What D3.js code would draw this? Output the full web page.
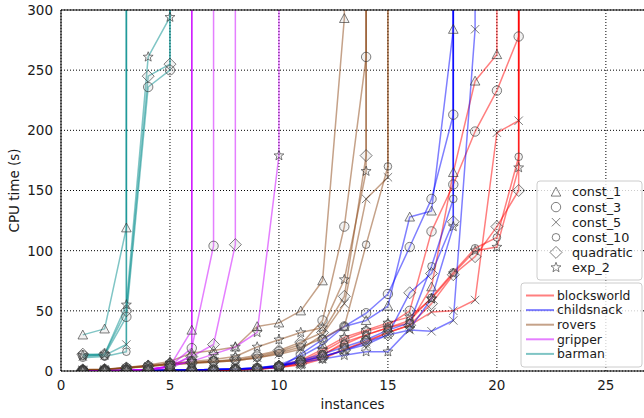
<!DOCTYPE html>
<html><head><meta charset="utf-8">
<script src="https://cdn.jsdelivr.net/npm/d3@7"></script>
<style>body{margin:0;background:#fff} text{font-family:"DejaVu Sans",sans-serif;fill:#1a1a1a}</style>
</head><body><svg id="c" width="644" height="418"></svg>
<script>
// Unsolved instance (timeout): drawn far above the chart, so the line runs off the top.
const TO = 1e6;
const configs = ["const_1", "const_3", "const_5", "const_10", "quadratic", "exp_2"];
const domains = ["blocksworld", "childsnack", "rovers", "gripper", "barman"];
const domainColors = ["#ff0000", "#0000ff", "#8b4513", "#cc00ff", "#008b8b"];
const xTicks = [0, 5, 10, 15, 20, 25];
const yTicks = [0, 50, 100, 150, 200, 250, 300];

// CPU time per instance (instance 1, 2, ...), one array per config, order = configs
const blocksworldTimes = [
  [0.1,0.1,0.2,0.3,0.4,0.6,0.8,1,1.5,3,6,13,24,30,36,40,70,165,241,263,TO],
  [0.1,0.1,0.2,0.3,0.4,0.6,0.8,1.1,1.6,4,8,16,26,33,38,50,116,155,199,233,278,TO],
  [0.1,0.1,0.2,0.3,0.4,0.5,0.7,1,1.4,3,5,10,18,24,32,38,49,50,59,198,208,TO],
  [0.1,0.1,0.2,0.3,0.4,0.6,0.8,1.1,1.7,4,7,14,22,30,36,42,61,82,102,111,178,TO],
  [0.1,0.1,0.2,0.3,0.4,0.6,0.8,1,1.5,3.5,6,11,18,25,32,38,56,80,95,120,150,TO],
  [0.1,0.1,0.2,0.3,0.4,0.6,0.9,1.2,1.8,4.5,9,18,28,34,40,45,60,81,100,103,169,TO]
];
const childsnackTimes = [
  [0.2,0.3,0.4,0.5,0.7,0.9,1.2,1.6,2.5,5,12,22,37,42,54,128,133,284,TO],
  [0.2,0.3,0.4,0.5,0.7,0.9,1.2,1.6,2.5,2.5,14,26,37,48,64,103,143,213,TO],
  [0.2,0.3,0.4,0.5,0.7,0.9,1.2,1.5,2.2,4,8,12,17,22,30,34,33,42,284,TO],
  [0.2,0.3,0.4,0.5,0.7,0.9,1.2,1.6,2.4,4.5,9,14,20,26,34,40,87,143,TO],
  [0.2,0.3,0.4,0.5,0.7,0.9,1.2,1.6,2.4,4,8,12,17,24,30,65,81,124,TO],
  [0.2,0.3,0.4,0.5,0.7,0.9,1.2,1.6,2.3,4,7,10,13,16,16,35,60,120,TO]
];
const roversTimes = [
  [1.2,1.5,3,5,8,15,17,20,37,40,50,75,293,TO],
  [1,1.3,2.5,4,6,7,8,9,12,16,22,42,120,261,TO],
  [1,1.3,2.5,4,5.5,6.5,7.5,8.5,11,14,18,30,56,143,161,TO],
  [1,1.2,2.3,3.8,5.5,6.5,7.5,8.5,11,15,20,27,37,105,170,TO],
  [1,1.3,2.6,4.2,6,7,8,10,13,17,24,32,62,179,TO],
  [1,1.4,2.8,4.5,6.5,8,9.5,12,20,26,32,36,76,166,TO]
];
const gripperTimes = [
  [0.1,0.2,0.5,1.2,4,34,TO],
  [0.1,0.2,0.5,1.2,4,19,104,TO],
  [0.1,0.2,0.5,1.1,3.5,13,TO],
  [0.1,0.2,0.4,1,3,9,TO],
  [0.1,0.2,0.5,1.2,4,12,22,105,TO],
  [0.1,0.2,0.5,1.2,4,8,14,20,32,179,TO]
];
const barmanTimes = [
  [30,35,119,TO],
  [13,13,45,236,250,TO],
  [12,13,22,TO],
  [11,12,16,TO],
  [14,14,50,245,255,TO],
  [13,14,55,261,294,TO]
];
const allTimes = [blocksworldTimes, childsnackTimes, roversTimes, gripperTimes, barmanTimes];

const svg = d3.select("#c");
const L = 61, R = 644, T = 10, B = 371;
const x = d3.scaleLinear().domain([0, 26.75]).range([L, R]);
const y = d3.scaleLinear().domain([0, 300]).range([B, T]);

svg.append("defs").append("clipPath").attr("id", "clip")
  .append("rect").attr("x", L).attr("y", T).attr("width", R - L).attr("height", B - T);

// grid
const grid = svg.append("g");
yTicks.forEach(t => grid.append("line").attr("x1", L).attr("x2", R).attr("y1", y(t)).attr("y2", y(t))
  .attr("stroke", "#000").attr("stroke-width", 1).attr("stroke-dasharray", "1,2"));
xTicks.forEach(t => grid.append("line").attr("x1", x(t)).attr("x2", x(t)).attr("y1", T).attr("y2", B)
  .attr("stroke", "#000").attr("stroke-width", 1).attr("stroke-dasharray", "1,2"));

// marker shapes
function markerPath(cfg) {
  switch (cfg) {
    case "const_1": { const r = 4.8; return `M0,${-r}L${-r},${r*0.85}L${r},${r*0.85}Z`; }
    case "const_3": return d3.symbol(d3.symbolCircle, Math.PI * 4.7 * 4.7)();
    case "const_5": { const r = 4.2; return `M${-r},${-r}L${r},${r}M${-r},${r}L${r},${-r}`; }
    case "const_10": return d3.symbol(d3.symbolCircle, Math.PI * 3.8 * 3.8)();
    case "quadratic": { const r = 6; return `M0,${-r}L${r},0L0,${r}L${-r},0Z`; }
    case "exp_2": {
      const ro = 5.2, ri = 2.2; let p = "";
      for (let i = 0; i < 10; i++) {
        const a = -Math.PI / 2 + i * Math.PI / 5, rr = i % 2 ? ri : ro;
        p += (i ? "L" : "M") + (rr * Math.cos(a)).toFixed(2) + "," + (rr * Math.sin(a)).toFixed(2);
      }
      return p + "Z";
    }
  }
}

const plot = svg.append("g").attr("clip-path", "url(#clip)");
const line = d3.line().x(d => x(d[0])).y(d => y(d[1]));

allTimes.forEach((dom, di) => {
  dom.forEach((vals, ci) => {
    const pts = vals.map((v, i) => [i + 1, v]);
    plot.append("path").attr("d", line(pts)).attr("fill", "none")
      .attr("stroke", domainColors[di]).attr("stroke-opacity", 0.5).attr("stroke-width", 1.5)
      .attr("stroke-linejoin", "round");
  });
});
allTimes.forEach((dom, di) => {
  dom.forEach((vals, ci) => {
    const pts = vals.map((v, i) => [i + 1, v]).filter(d => d[1] < TO);
    plot.selectAll(null).data(pts).enter().append("path")
      .attr("d", markerPath(configs[ci]))
      .attr("transform", d => `translate(${x(d[0])},${y(d[1])})`)
      .attr("fill", "#aaa").attr("fill-opacity", 0.15)
      .attr("stroke", "#333").attr("stroke-opacity", 0.7).attr("stroke-width", 0.9);
  });
});

// spines
svg.append("line").attr("x1", L).attr("x2", R).attr("y1", T).attr("y2", T).attr("stroke", "#000").attr("stroke-width", 1);
svg.append("line").attr("x1", L).attr("x2", R).attr("y1", B).attr("y2", B).attr("stroke", "#000").attr("stroke-width", 1);
svg.append("line").attr("x1", L).attr("x2", L).attr("y1", T).attr("y2", B).attr("stroke", "#000").attr("stroke-width", 1);

// tick labels
yTicks.forEach(t => svg.append("text").attr("x", 53).attr("y", y(t)).attr("dy", "0.36em")
  .attr("text-anchor", "end").attr("font-size", 13.5).text(t));
xTicks.forEach(t => svg.append("text").attr("x", x(t)).attr("y", 390)
  .attr("text-anchor", "middle").attr("font-size", 13.5).text(t));
svg.append("text").attr("x", (L + R) / 2).attr("y", 409).attr("text-anchor", "middle")
  .attr("font-size", 13.5).text("instances");
svg.append("text").attr("transform", `translate(19,${(T + B) / 2}) rotate(-90)`)
  .attr("text-anchor", "middle").attr("font-size", 13.5).text("CPU time (s)");

// legend: configs (markers)
const lg1 = svg.append("g");
lg1.append("rect").attr("x", 537).attr("y", 181).attr("width", 105).attr("height", 99).attr("rx", 3)
  .attr("fill", "#fff").attr("fill-opacity", 0.8).attr("stroke", "#ccc");
configs.forEach((c, i) => {
  const yy = 192 + 15.1 * i;
  lg1.append("path").attr("d", markerPath(c)).attr("transform", `translate(556,${yy})`)
    .attr("fill", "none").attr("stroke", "#333").attr("stroke-opacity", 0.7).attr("stroke-width", 0.9);
  lg1.append("text").attr("x", 572).attr("y", yy).attr("dy", "0.35em").attr("font-size", 12.8).text(c);
});
// legend: domains (lines)
const lg2 = svg.append("g");
lg2.append("rect").attr("x", 521).attr("y", 283).attr("width", 121).attr("height", 84).attr("rx", 3)
  .attr("fill", "#fff").attr("fill-opacity", 0.8).attr("stroke", "#ccc");
domains.forEach((d, i) => {
  const yy = 295.5 + 14.6 * i;
  lg2.append("line").attr("x1", 526).attr("x2", 554).attr("y1", yy).attr("y2", yy)
    .attr("stroke", domainColors[i]).attr("stroke-opacity", 0.5).attr("stroke-width", 2);
  lg2.append("text").attr("x", 557).attr("y", yy).attr("dy", "0.35em").attr("font-size", 12.4).text(d);
});
</script></body></html>
